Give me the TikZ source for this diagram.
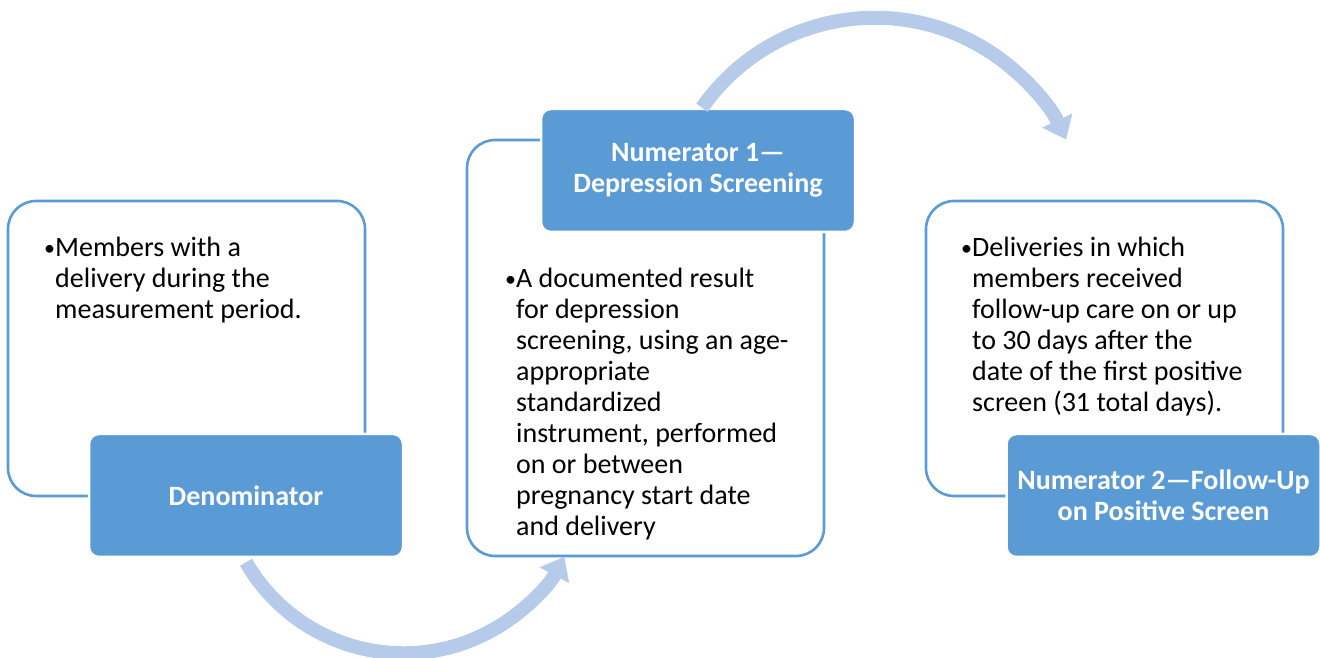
\documentclass[tikz,border=0pt]{standalone}
\usepackage{fontspec}
\setmainfont{Carlito}
\usetikzlibrary{arrows.meta}

\definecolor{boxblue}{RGB}{91,155,213}
\definecolor{flowblue}{RGB}{182,203,233}
\newcommand{\pointlist}[1]{\begin{tabular}[t]{@{}p{11pt}@{}l@{}}#1\end{tabular}}
\newcommand{\dotmark}{{\fontsize{22}{31}\selectfont\raisebox{1pt}{•}}}

\begin{document}
\fontsize{28}{31}\selectfont
\begin{tikzpicture}[x=1pt,y=1pt,
	outerbox/.style={draw=boxblue, line width=2.6pt, fill=white, rounded corners=28pt},
	headbox/.style={fill=boxblue, draw=white, line width=2.5pt, rounded corners=10pt,
		minimum width=314pt, minimum height=123pt, text=white, font=\bfseries, align=center},
	bodytext/.style={anchor=base west, inner sep=0pt},
	flow/.style={draw=flowblue, line width=14pt, -{Triangle[width=32pt,length=21pt]}}]
	\useasboundingbox (0,0) rectangle (1320,658);
	% frames
		\node[outerbox, minimum width=357pt, minimum height=295pt] (denomFrame) at (186.5,309.5) {};
		\node[outerbox, minimum width=357pt, minimum height=416pt] (screenFrame) at (645.5,310) {};
		\node[outerbox, minimum width=357pt, minimum height=295pt] (followFrame) at (1104.5,309.5) {};
	% headers
		\node[headbox] (denom) at (246,162.5) {Denominator};
		\node[headbox] (screen) at (698,487.5) {Numerator 1—\\Depression Screening};
		\node[headbox] (follow) at (1163.5,162.5) {Numerator 2—Follow-Up\\on Positive Screen};
	% texts
		\node[bodytext] (denomText) at (44,401) {\pointlist{\dotmark&Members with a\\
			&delivery during the\\&measurement period.}};
		\node[bodytext] (screenText) at (505,370) {\pointlist{\dotmark&A documented result\\
			&for depression\\&screening, using an age-\\&appropriate\\&standardized\\
			&instrument, performed\\&on or between\\&pregnancy start date\\&and delivery}};
		\node[bodytext] (followText) at (961,401) {\pointlist{\dotmark&Deliveries in which\\
			&members received\\&follow-up care on or up\\&to 30 days after the\\
			&date of the first positive\\&screen (31 total days).}};
	% flows
		\draw[flow] ([yshift=-4pt]denom.south) arc[start angle=210, end angle=332, radius=182];
		\draw[flow] ([xshift=4pt]screen.north) arc[start angle=145, end angle=25, radius=211];
	\end{tikzpicture}
\end{document}
